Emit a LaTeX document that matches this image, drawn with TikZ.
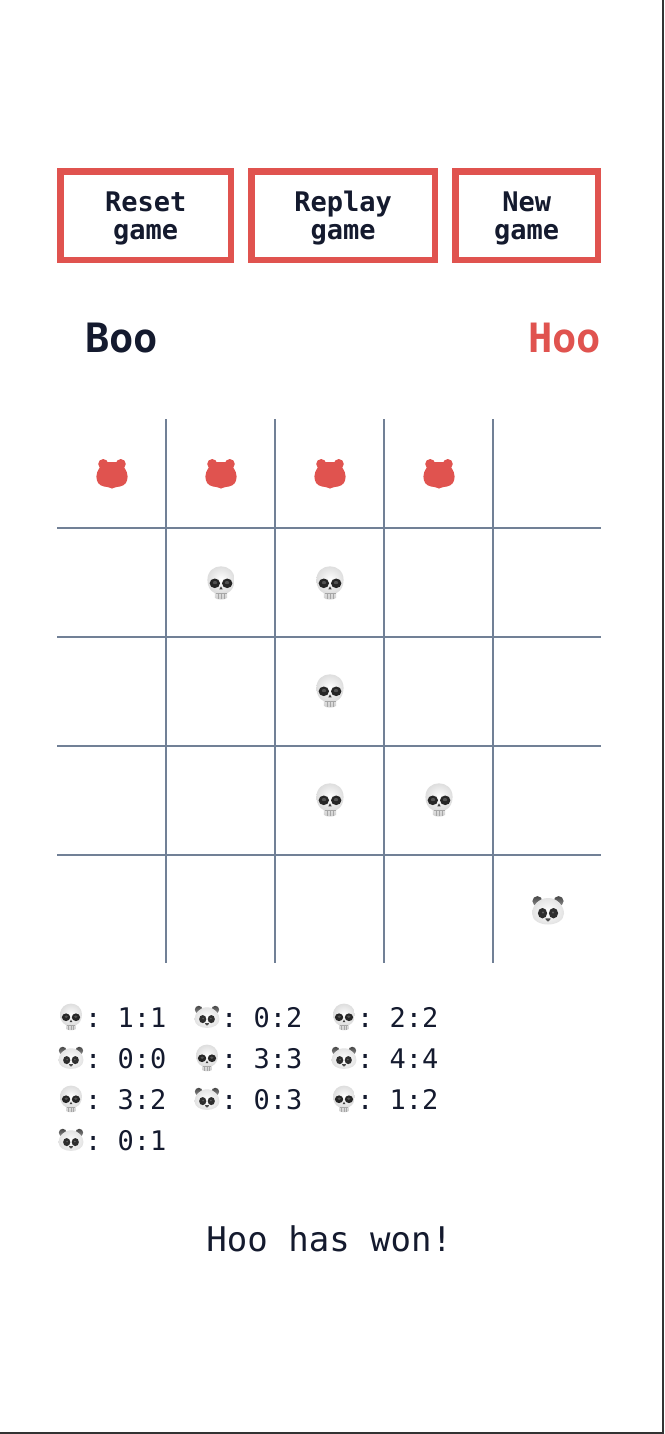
\documentclass[tikz,border=0pt]{standalone}
\usepackage{fontspec}
\setmonofont{DejaVu Sans Mono}
\definecolor{ink}{HTML}{141A2E}
\definecolor{redc}{HTML}{E0534F}
\definecolor{gridc}{HTML}{718096}
\definecolor{edgec}{HTML}{333333}
\newcommand{\btnfirst}{\rule{0pt}{25pt}}
\newcommand{\btnlast}{\rule[-6.4pt]{0pt}{6.4pt}}
\tikzset{
  btn/.style={draw=redc,line width=6.6pt,fill=white,inner sep=0pt,align=center,text=ink,
    font=\ttfamily\bfseries\fontsize{27}{28}\selectfont},
  gridline/.style={draw=gridc,line width=1.7pt},
  head/.style={font=\ttfamily\bfseries\fontsize{40.4}{44}\selectfont,inner sep=0pt},
  moveitem/.style={font=\ttfamily\fontsize{27}{30}\selectfont,text=ink,inner sep=0pt,anchor=base west},
  pics/bearshape/.style={code={
    \fill[#1] (-8.8,-11) circle (5) (8.8,-11) circle (5);
    \fill[#1] (-7,-12.8) -- (7,-12.8)
      .. controls (11,-10) and (15.6,-4) .. (15.6,1.5)
      .. controls (15.6,7) and (13,10.5) .. (8,11.5)
      .. controls (6,11.8) and (4,12) .. (2.5,12.6)
      .. controls (1,13.9) and (-1,13.9) .. (-2.5,12.6)
      .. controls (-4,12) and (-6,11.8) .. (-8,11.5)
      .. controls (-13,10.5) and (-15.6,7) .. (-15.6,1.5)
      .. controls (-15.6,-4) and (-11,-10) .. (-7,-12.8) -- cycle;
  }},
  pics/panda/.style={code={
    \shade[top color=black!72,bottom color=black!45] (-10.6,-9.4) circle (5) (10.6,-9.4) circle (5);
    \shade[inner color=white,outer color=black!11]
      (0,-12.5) .. controls (10,-12.5) and (16,-4) .. (16,3)
      .. controls (16,10) and (8,14) .. (0,14)
      .. controls (-8,14) and (-16,10) .. (-16,3)
      .. controls (-16,-4) and (-10,-12.5) .. (0,-12.5) -- cycle;
    \fill[black!82] (-5.5,2.7) ellipse (4.6 and 5.2) (5.5,2.7) ellipse (4.6 and 5.2);
    \fill[black!62] (-5,2) circle (1.1) (5,2) circle (1.1);
    \fill[black!70,rounded corners=.8pt] (-3.2,7.8) -- (3.2,7.8) -- (0,11.5) -- cycle;
  }},
  pics/skull/.style={code={
    \shade[top color=black!6,bottom color=black!20]
      (-6.5,4) -- (6.5,4) -- (6,15) .. controls (4,17) and (-4,17) .. (-6,15) -- cycle;
    \shade[inner color=white,outer color=black!13]
      (-6.5,10) .. controls (-11,8) and (-13.6,3) .. (-13.6,-3)
      .. controls (-13.6,-12) and (-7,-16.7) .. (0,-16.7)
      .. controls (7,-16.7) and (13.6,-12) .. (13.6,-3)
      .. controls (13.6,3) and (11,8) .. (6.5,10) -- cycle;
    \fill[black!85] (-6.2,0.3) ellipse (5.2 and 4.8) (6.2,0.3) ellipse (5.2 and 4.8);
    \fill[black!68] (-6,-.4) ellipse (2.2 and 1.6) (6,-.4) ellipse (2.2 and 1.6);
    \fill[black!75] (-1.7,6.4) -- (0,3.4) -- (1.7,6.4) -- cycle;
    \draw[black!35,line width=.5pt] (-5.5,10.5) -- (5.5,10.5) (-3,10.5) -- (-3,16) (0,10.5) -- (0,16.4) (3,10.5) -- (3,16);
  }},
}
\begin{document}
\begin{tikzpicture}[x=1pt,y=-1pt]
\useasboundingbox (0,0) rectangle (664,1434);
\fill[white] (0,0) rectangle (664,1434);
\fill[edgec] (662,0) rectangle (664,1434);
\fill[edgec] (0,1432) rectangle (664,1434);

\node[btn,minimum width=170.4pt,minimum height=88.8pt] (reset) at (145.7,215.7) {\btnfirst Reset\\game\btnlast};
\node[btn,minimum width=183.4pt,minimum height=88.8pt] (replay) at (343.2,215.7) {\btnfirst Replay\\game\btnlast};
\node[btn,minimum width=142.4pt,minimum height=88.8pt] (newgame) at (526.7,215.7) {\btnfirst New\\game\btnlast};

\node[head,text=ink,anchor=base west] (boo) at (85,352) {Boo};
\node[head,text=redc,anchor=base east] (hoo) at (601.5,352) {Hoo};

\foreach \x in {166,275,384,493} \draw[gridline] (\x,419) -- (\x,963);
\foreach \y in {528,637,746,855} \draw[gridline] (57,\y) -- (601,\y);

\foreach \x in {112,221,330,439} \pic at (\x,475) {bearshape=redc};
\foreach \x/\y in {221/583,330/583,330/691,330/800,439/800} \pic at (\x,\y) {skull};
\pic at (548,910.5) {panda};

\foreach \x/\y in {71/1017,344/1017,207/1058,71/1099,344/1099} \pic[scale=.8] at (\x,\y) {skull};
\foreach \x/\y in {207/1017,71/1058,344/1058,207/1099,71/1140} \pic[scale=.78] at (\x,\y) {panda};

\node[moveitem] (m1) at (85,1027) {: 1:1};
\node[moveitem] (m2) at (221,1027) {: 0:2};
\node[moveitem] (m3) at (357,1027) {: 2:2};
\node[moveitem] (m4) at (85,1068) {: 0:0};
\node[moveitem] (m5) at (221,1068) {: 3:3};
\node[moveitem] (m6) at (357,1068) {: 4:4};
\node[moveitem] (m7) at (85,1109) {: 3:2};
\node[moveitem] (m8) at (221,1109) {: 0:3};
\node[moveitem] (m9) at (357,1109) {: 1:2};
\node[moveitem] (m10) at (85,1150) {: 0:1};

\node[font=\ttfamily\fontsize{34}{36}\selectfont,text=ink,inner sep=0pt,anchor=base] (won) at (329.3,1251) {Hoo has won!};
\end{tikzpicture}
\end{document}
